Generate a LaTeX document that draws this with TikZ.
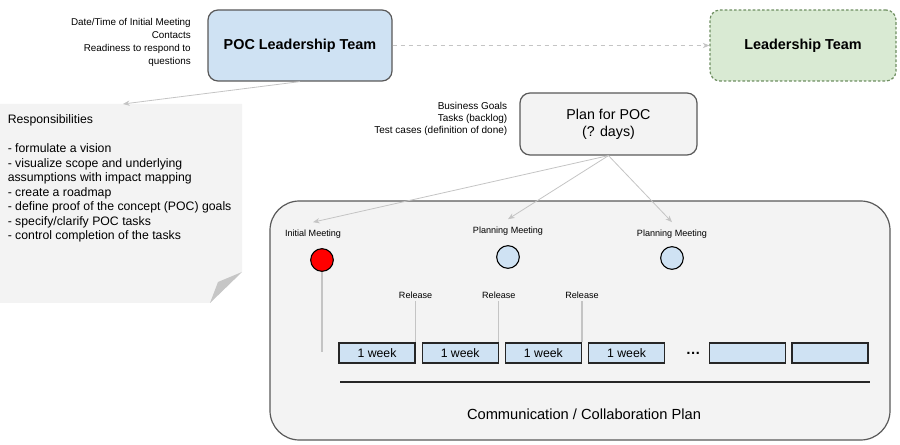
\documentclass[tikz,border=0pt]{standalone}
\usepackage{fontspec}
\setmainfont{Liberation Sans}
\usetikzlibrary{arrows.meta, positioning}

\definecolor{boxblue}{HTML}{CFE2F3}
\definecolor{boxgreen}{HTML}{D9EAD3}
\definecolor{paper}{HTML}{F3F3F3}
\definecolor{edgegray}{HTML}{595959}
\definecolor{linkgray}{HTML}{C4C4C4}
\definecolor{greenedge}{HTML}{6F8F62}

\begin{document}
\begin{tikzpicture}[
		% one unit = one pixel of the layout
		x=0.75pt, y=-0.75pt,
		team/.style = {draw=edgegray, line width=0.9pt, rounded corners=7.5pt, minimum width=138pt, minimum height=53.25pt, align=center, font=\fontsize{10.8}{13}\selectfont\bfseries},
		planbox/.style = {draw=edgegray, fill=paper, line width=0.9pt, rounded corners=7.5pt, minimum width=132.75pt, minimum height=46.5pt, align=center, font=\fontsize{10.7}{12.75}\selectfont},
		hint/.style = {anchor=east, align=right, inner sep=0pt, font=\fontsize{7.4}{9.75}\selectfont},
		meet/.style = {circle, draw=black, line width=0.8pt, minimum size=17pt, inner sep=0pt},
		tag/.style = {inner sep=1.5pt, font=\fontsize{6.8}{8}\selectfont},
		week/.style = {draw=black!85, fill=boxblue, line width=0.9pt, minimum width=57pt, minimum height=15pt, inner sep=0pt, font=\fontsize{9.2}{10}\selectfont},
		link/.style = {draw=linkgray, line width=0.6pt},
		>={Stealth[length=5pt, width=4pt]}
		]
		\useasboundingbox (0,0) rectangle (900,445);
		
		% --- EQUIPOS ---
		\node [team, fill=boxblue] (pocteam) at (300,45.5) {POC Leadership Team};
		\node [team, fill=boxgreen, draw=greenedge, dash pattern=on 2pt off 1.5pt, minimum width=139.5pt] (leadteam) at (803,45.5) {Leadership Team};
		\node [hint] (pocinfo) at (191,42) {Date/Time of Initial Meeting\\Contacts\\Readiness to respond to\\questions};
		
		\draw [link, dashed, ->] (pocteam) -- (leadteam);
		
		% --- NOTA DE RESPONSABILIDADES ---
		\fill [paper] (0,104) -- (242,104) -- (242,272) -- (210,303) -- (0,303) -- cycle;
		\fill [gray!45] (242,272) -- (218,282) -- (210,303) -- cycle;
		\coordinate (notetop) at (123,104);
		\node [anchor=north west, align=left, inner sep=0pt, font=\fontsize{9.2}{10.9}\selectfont] (duties) at (7.5,114.5)
		{Responsibilities\\[10.9pt]
			- formulate a vision\\
			- visualize scope and underlying\\
			assumptions with impact mapping\\
			- create a roadmap\\
			- define proof of the concept (POC) goals\\
			- specify/clarify POC tasks\\
			- control completion of the tasks};
		
		\draw [link, ->] (pocteam.south) -- (notetop);
		
		% --- PLAN ---
		\node [planbox] (planpoc) at (608.5,124) {Plan for POC\\(? days)};
		\node [hint, font=\fontsize{7.5}{9}\selectfont] (planinfo) at (507.5,119) {Business Goals\\Tasks (backlog)\\Test cases (definition of done)};
		
		% --- PLAN DE COMUNICACION ---
		\node [draw=edgegray, fill=paper, line width=0.9pt, rounded corners=22pt, minimum width=465pt, minimum height=179.25pt] (commplan) at (580,320.5) {};
		\node [font=\fontsize{11}{13}\selectfont] (commlabel) at (584,414) {Communication / Collaboration Plan};
		
		% Reuniones
		\node [meet, fill=red] (initmeet) at (322,260) {};
		\node [meet, fill=boxblue] (planmeetA) at (508,257) {};
		\node [meet, fill=boxblue] (planmeetB) at (672,258) {};
		\node [tag] (initlabel) at (313,234) {Initial Meeting};
		\node [tag] (planlabelA) at (508,231) {Planning Meeting};
		\node [tag] (planlabelB) at (672,234) {Planning Meeting};
		
		\draw [link, ->] (planpoc.south) -- ([yshift=4pt]initlabel.north);
		\draw [link, ->] (planpoc.south) -- ([yshift=4pt]planlabelA.north);
		\draw [link, ->] (planpoc.south) -- ([yshift=4pt]planlabelB.north);
		
		% Semanas
		\node [week] (week1) at (377,353) {1 week};
		\node [week, right=4.5pt of week1] (week2) {1 week};
		\node [week, right=4.5pt of week2] (week3) {1 week};
		\node [week, right=4.5pt of week3] (week4) {1 week};
		\node [font=\fontsize{11}{13}\selectfont\bfseries, right=12pt of week4] (wdots) {\dots};
		\node [week] (week5) at (747.5,353) {};
		\node [week, right=4pt of week5] (week6) {};
		
		% Entregas
		\node [tag, above=31pt of week1.north east] (rel1) {Release};
		\node [tag, above=31pt of week2.north east] (rel2) {Release};
		\node [tag, above=31pt of week3.north east] (rel3) {Release};
		\draw [linkgray, line width=0.8pt] (rel1) -- (week1.north east);
		\draw [linkgray, line width=0.8pt] (rel2) -- (week2.north east);
		\draw [linkgray, line width=0.8pt] (rel3) -- (week3.north east);
		
		\coordinate (initend) at (322,352);
		\draw [linkgray, line width=0.8pt] (initmeet) -- (initend);
		
		% Linea de tiempo
		\coordinate (tlstart) at (340,382);
		\coordinate (tlend) at (870,382);
		\draw [black!85, line width=1.2pt] (tlstart) -- (tlend);
		
	\end{tikzpicture}
\end{document}
